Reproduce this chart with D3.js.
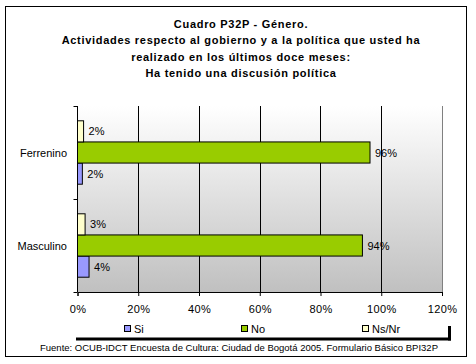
<!DOCTYPE html>
<html><head><meta charset="utf-8">
<script src="https://cdn.jsdelivr.net/npm/d3@7"></script>
<style>body{margin:0;background:#fff}svg{display:block}text{font-family:"Liberation Sans",Arial,sans-serif}</style>
</head><body><svg id="c" width="476" height="364"></svg>
<script>
const titleLines = ["Cuadro P32P - Género.","Actividades respecto al gobierno y a la política que usted ha","realizado en los últimos doce meses:","Ha tenido una discusión política"];
const categories = ["Ferrenino","Masculino"];
const seriesNames = ["Si","No","Ns/Nr"];
const siValues = [1.6, 3.8];
const noValues = [96.3, 93.8];
const nsnrValues = [2.0, 2.5];
const siLabels = ["2%","4%"];
const noLabels = ["96%","94%"];
const nsnrLabels = ["2%","3%"];
const xTicks = [0,20,40,60,80,100,120];
const source = "Fuente: OCUB-IDCT Encuesta de Cultura: Ciudad de Bogotá 2005. Formulario Básico BPI32P";
const colors = {"Si":"#9999FF","No":"#99CC00","Ns/Nr":"#FFFFCC"};

const svg = d3.select("#c");
svg.append("rect").attr("x",5.5).attr("y",6.5).attr("width",461).attr("height",350).attr("fill","#fff").attr("stroke","#000");

const t = svg.append("text").attr("text-anchor","middle").attr("font-size",11).attr("font-weight","bold").attr("letter-spacing",0.7);
titleLines.forEach((l,i)=>t.append("tspan").attr("x",241).attr("y",28+i*16.4).text(l));

const L=77.5,R=442,T=106,B=292;
const x = d3.scaleLinear().domain([0,120]).range([L,R]);
const y = d3.scaleBand().domain(categories).range([T,B]);
const inner = d3.scaleBand().domain(["Ns/Nr","No","Si"]).range([0,y.bandwidth()]).paddingOuter(0.7).paddingInner(0);

const defs = svg.append("defs");
const g = defs.append("linearGradient").attr("id","bg").attr("x1",0).attr("y1",0).attr("x2",0).attr("y2",1);
g.append("stop").attr("offset","0%").attr("stop-color","#ffffff");
g.append("stop").attr("offset","100%").attr("stop-color","#c0c0c0");
svg.append("rect").attr("x",L).attr("y",T).attr("width",R-L).attr("height",B-T).attr("fill","url(#bg)");

svg.append("g").selectAll("line").data(xTicks.slice(1)).join("line")
 .attr("x1",d=>Math.round(x(d))+0.5).attr("x2",d=>Math.round(x(d))+0.5).attr("y1",T).attr("y2",B)
 .attr("stroke",d=>d===120?"#808080":"#000").attr("stroke-width",1);

const series = [
 {name:"Si",vals:siValues,labels:siLabels},
 {name:"No",vals:noValues,labels:noLabels},
 {name:"Ns/Nr",vals:nsnrValues,labels:nsnrLabels}];
series.forEach(s=>{
  categories.forEach((c,i)=>{
    const yy = y(c)+inner(s.name);
    svg.append("rect").attr("x",x(0)).attr("y",yy).attr("width",x(s.vals[i])-x(0)).attr("height",inner.bandwidth())
      .attr("fill",colors[s.name]).attr("stroke","#000").attr("stroke-width",1);
    svg.append("text").attr("x",x(s.vals[i])+5).attr("y",yy+inner.bandwidth()/2+4).attr("font-size",11).text(s.labels[i]);
  });
});

// axes
const xa = svg.append("g").attr("transform",`translate(0,${B})`).call(d3.axisBottom(x).tickValues(xTicks).tickFormat(d=>d+"%").tickSize(4).tickPadding(9));
xa.select(".domain").attr("stroke","#000");
xa.selectAll("text").attr("font-size",11).attr("fill","#000").attr("letter-spacing",0.4).style("font-family","Liberation Sans, Arial, sans-serif");
const yScaleTicks = d3.scalePoint().domain([0,1,2]).range([T,B]);
svg.append("line").attr("x1",L).attr("x2",L).attr("y1",T).attr("y2",B).attr("stroke","#000");
svg.append("g").selectAll("line").data([0,1,2]).join("line").attr("x1",L-4).attr("x2",L).attr("y1",d=>Math.round(yScaleTicks(d))+0.5).attr("y2",d=>Math.round(yScaleTicks(d))+0.5).attr("stroke","#000");
categories.forEach(c=>{
  svg.append("text").attr("x",67).attr("y",y(c)+y.bandwidth()/2+4).attr("text-anchor","end").attr("font-size",11).text(c);
});

// legend
const legX = {"Si":124,"No":241,"Ns/Nr":362};
seriesNames.forEach(n=>{
  svg.append("rect").attr("x",legX[n]+0.5).attr("y",325.5).attr("width",6).attr("height",6).attr("fill",colors[n]).attr("stroke","#000");
  svg.append("text").attr("x",legX[n]+10).attr("y",332.5).attr("font-size",11).text(n);
});
svg.append("rect").attr("x",76).attr("y",337.5).attr("width",375).attr("height",3).attr("fill","#000");
svg.append("rect").attr("x",448).attr("y",326).attr("width",3).attr("height",14.5).attr("fill","#000");

svg.append("text").attr("x",239).attr("y",351).attr("text-anchor","middle").attr("font-size",9.5).text(source);
</script></body></html>
